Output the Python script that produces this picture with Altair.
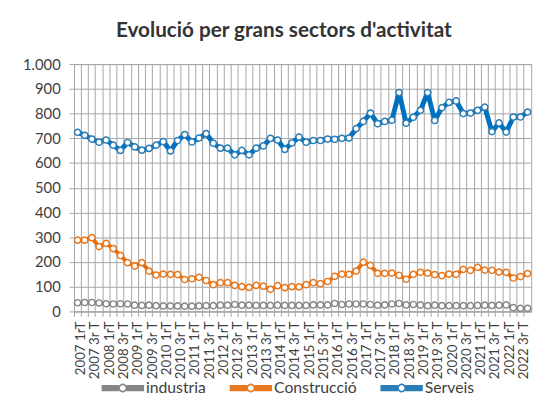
import math
import altair as alt
import pandas as pd

years = list(range(2007, 2023))
quarter_suffix = ["1rT", "2n T", "3r T", "4t T"]
categories = [f"{y} {q}" for y in years for q in quarter_suffix]

series_names = ["industria", "Construcció", "Serveis"]

industria = [35, 36, 36, 34, 31, 30, 31, 30, 25, 24, 25, 23, 22, 22, 22, 21,
             21, 22, 23, 23, 25, 25, 28, 25, 25, 24, 24, 24, 25, 24, 24, 24,
             24, 26, 26, 26, 32, 28, 30, 30, 30, 28, 25, 26, 30, 32, 26, 28,
             26, 23, 25, 23, 23, 23, 23, 23, 24, 25, 24, 25, 26, 15, 12, 12]

construccio = [288, 288, 298, 262, 275, 254, 226, 197, 183, 197, 163, 147, 151, 150, 149, 129,
               132, 138, 125, 108, 116, 116, 105, 100, 97, 105, 102, 89, 104, 96, 100, 99,
               108, 116, 112, 121, 142, 151, 150, 163, 199, 186, 154, 154, 155, 146, 130, 150,
               158, 155, 149, 145, 151, 150, 170, 166, 178, 167, 166, 159, 158, 135, 141, 153]

serveis = [724, 712, 697, 684, 693, 672, 651, 683, 665, 652, 659, 672, 687, 649, 691, 715,
           685, 701, 719, 680, 660, 660, 633, 651, 633, 660, 669, 700, 693, 655, 681, 705,
           684, 691, 691, 697, 696, 700, 701, 739, 768, 802, 759, 768, 773, 885, 761, 785,
           813, 885, 772, 824, 845, 851, 800, 802, 813, 826, 727, 762, 725, 786, 786, 806]

y_ticks = list(range(0, 1001, 100))

line_colors = ["#7F7F7F", "#E46C0A", "#0070C0"]
marker_colors = ["#868686", "#E8781E", "#2A7DB5"]
line_widths = [3.5, 4, 5]

rows = []
for name, vals in zip(series_names, [industria, construccio, serveis]):
    for i, (c, v) in enumerate(zip(categories, vals)):
        rows.append({"periode": c, "sector": name, "valor": v, "ordre": i})
df = pd.DataFrame(rows)

FONT = "Lato"
TEXT = "#404040"
GRID = "#a6a6a6"

x_enc = alt.X(
    "periode:N", sort=categories, title=None,
    scale=alt.Scale(type="band", paddingInner=0, paddingOuter=0),
    axis=alt.Axis(
        bandPosition=0, labelOffset=3.625, labelAngle=-90,
        labelExpr="indexof(datum.value, '2n') >= 0 || indexof(datum.value, '4t') >= 0 ? '' : datum.value",
        labelOverlap=False, labelFont=FONT, labelFontSize=13.5, labelColor=TEXT,
        labelPadding=5, grid=True, gridColor=GRID, gridWidth=1,
        tickSize=5, tickColor=GRID, domainColor=GRID,
    ),
)
y_enc = alt.Y(
    "valor:Q", title=None,
    scale=alt.Scale(domain=[0, 1000], nice=False),
    axis=alt.Axis(
        values=y_ticks, labelExpr="replace(format(datum.value, ','), ',', '.')",
        labelFont=FONT, labelFontSize=15, labelColor=TEXT, labelPadding=9,
        grid=True, gridColor=GRID, gridWidth=1, tickSize=5, tickColor=GRID,
        domainColor=GRID,
    ),
)


def ring(r, n=20):
    pts = [f"{r * math.cos(2 * math.pi * k / n):.3f},{r * math.sin(2 * math.pi * k / n):.3f}"
           for k in range(n)]
    return "M" + " L".join(pts) + " Z"


# legend glyph (stroked): a thick line drawn as parallel strokes, with a hollow marker
bands = [-0.11, -0.04, 0.04, 0.11]
legend_symbol = " ".join(
    [f"M-1,{b} L-0.17,{b} M0.17,{b} L1,{b}" for b in bands] + [ring(0.17)]
)

# one line layer per series (constant colour/width, so no extra legend is created)
line_layers = [
    alt.Chart(df).transform_filter(alt.datum.sector == name)
    .mark_line(color=col, strokeWidth=w, strokeCap="round", strokeJoin="round")
    .encode(x=x_enc, y=y_enc, order=alt.Order("ordre:Q"))
    for name, col, w in zip(series_names, line_colors, line_widths)
]

points = alt.Chart(df).mark_point(shape="circle", fill="white", fillOpacity=1, opacity=1,
                                   size=40, strokeWidth=1.5).encode(
    x=x_enc, y=y_enc,
    stroke=alt.Stroke("sector:N", scale=alt.Scale(domain=series_names, range=marker_colors),
                      legend=alt.Legend(
                          title=None, orient="none", legendX=27, legendY=306,
                          direction="horizontal", symbolType=legend_symbol, symbolSize=1849,
                          symbolStrokeWidth=1.6, symbolFillColor="white", symbolOpacity=1,
                          labelFont=FONT, labelFontSize=16, labelColor=TEXT, labelOffset=1,
                          columnPadding=20,
                      )),
)

chart = alt.layer(*line_layers, points).properties(
    width=464, height=251,
    autosize=alt.AutoSizeParams(type="none"),
    padding={"left": 67, "top": 54, "right": 13, "bottom": 88},
    title=alt.TitleParams(
        "Evolució per grans sectors d'activitat", font=FONT, fontSize=21, fontWeight="bold",
        color="#333333", anchor="middle", frame="group", dx=-19, offset=17,
    ),
).configure_view(stroke=GRID, strokeWidth=1)

chart.save("out.html", embed_options={"renderer": "svg", "actions": False})
